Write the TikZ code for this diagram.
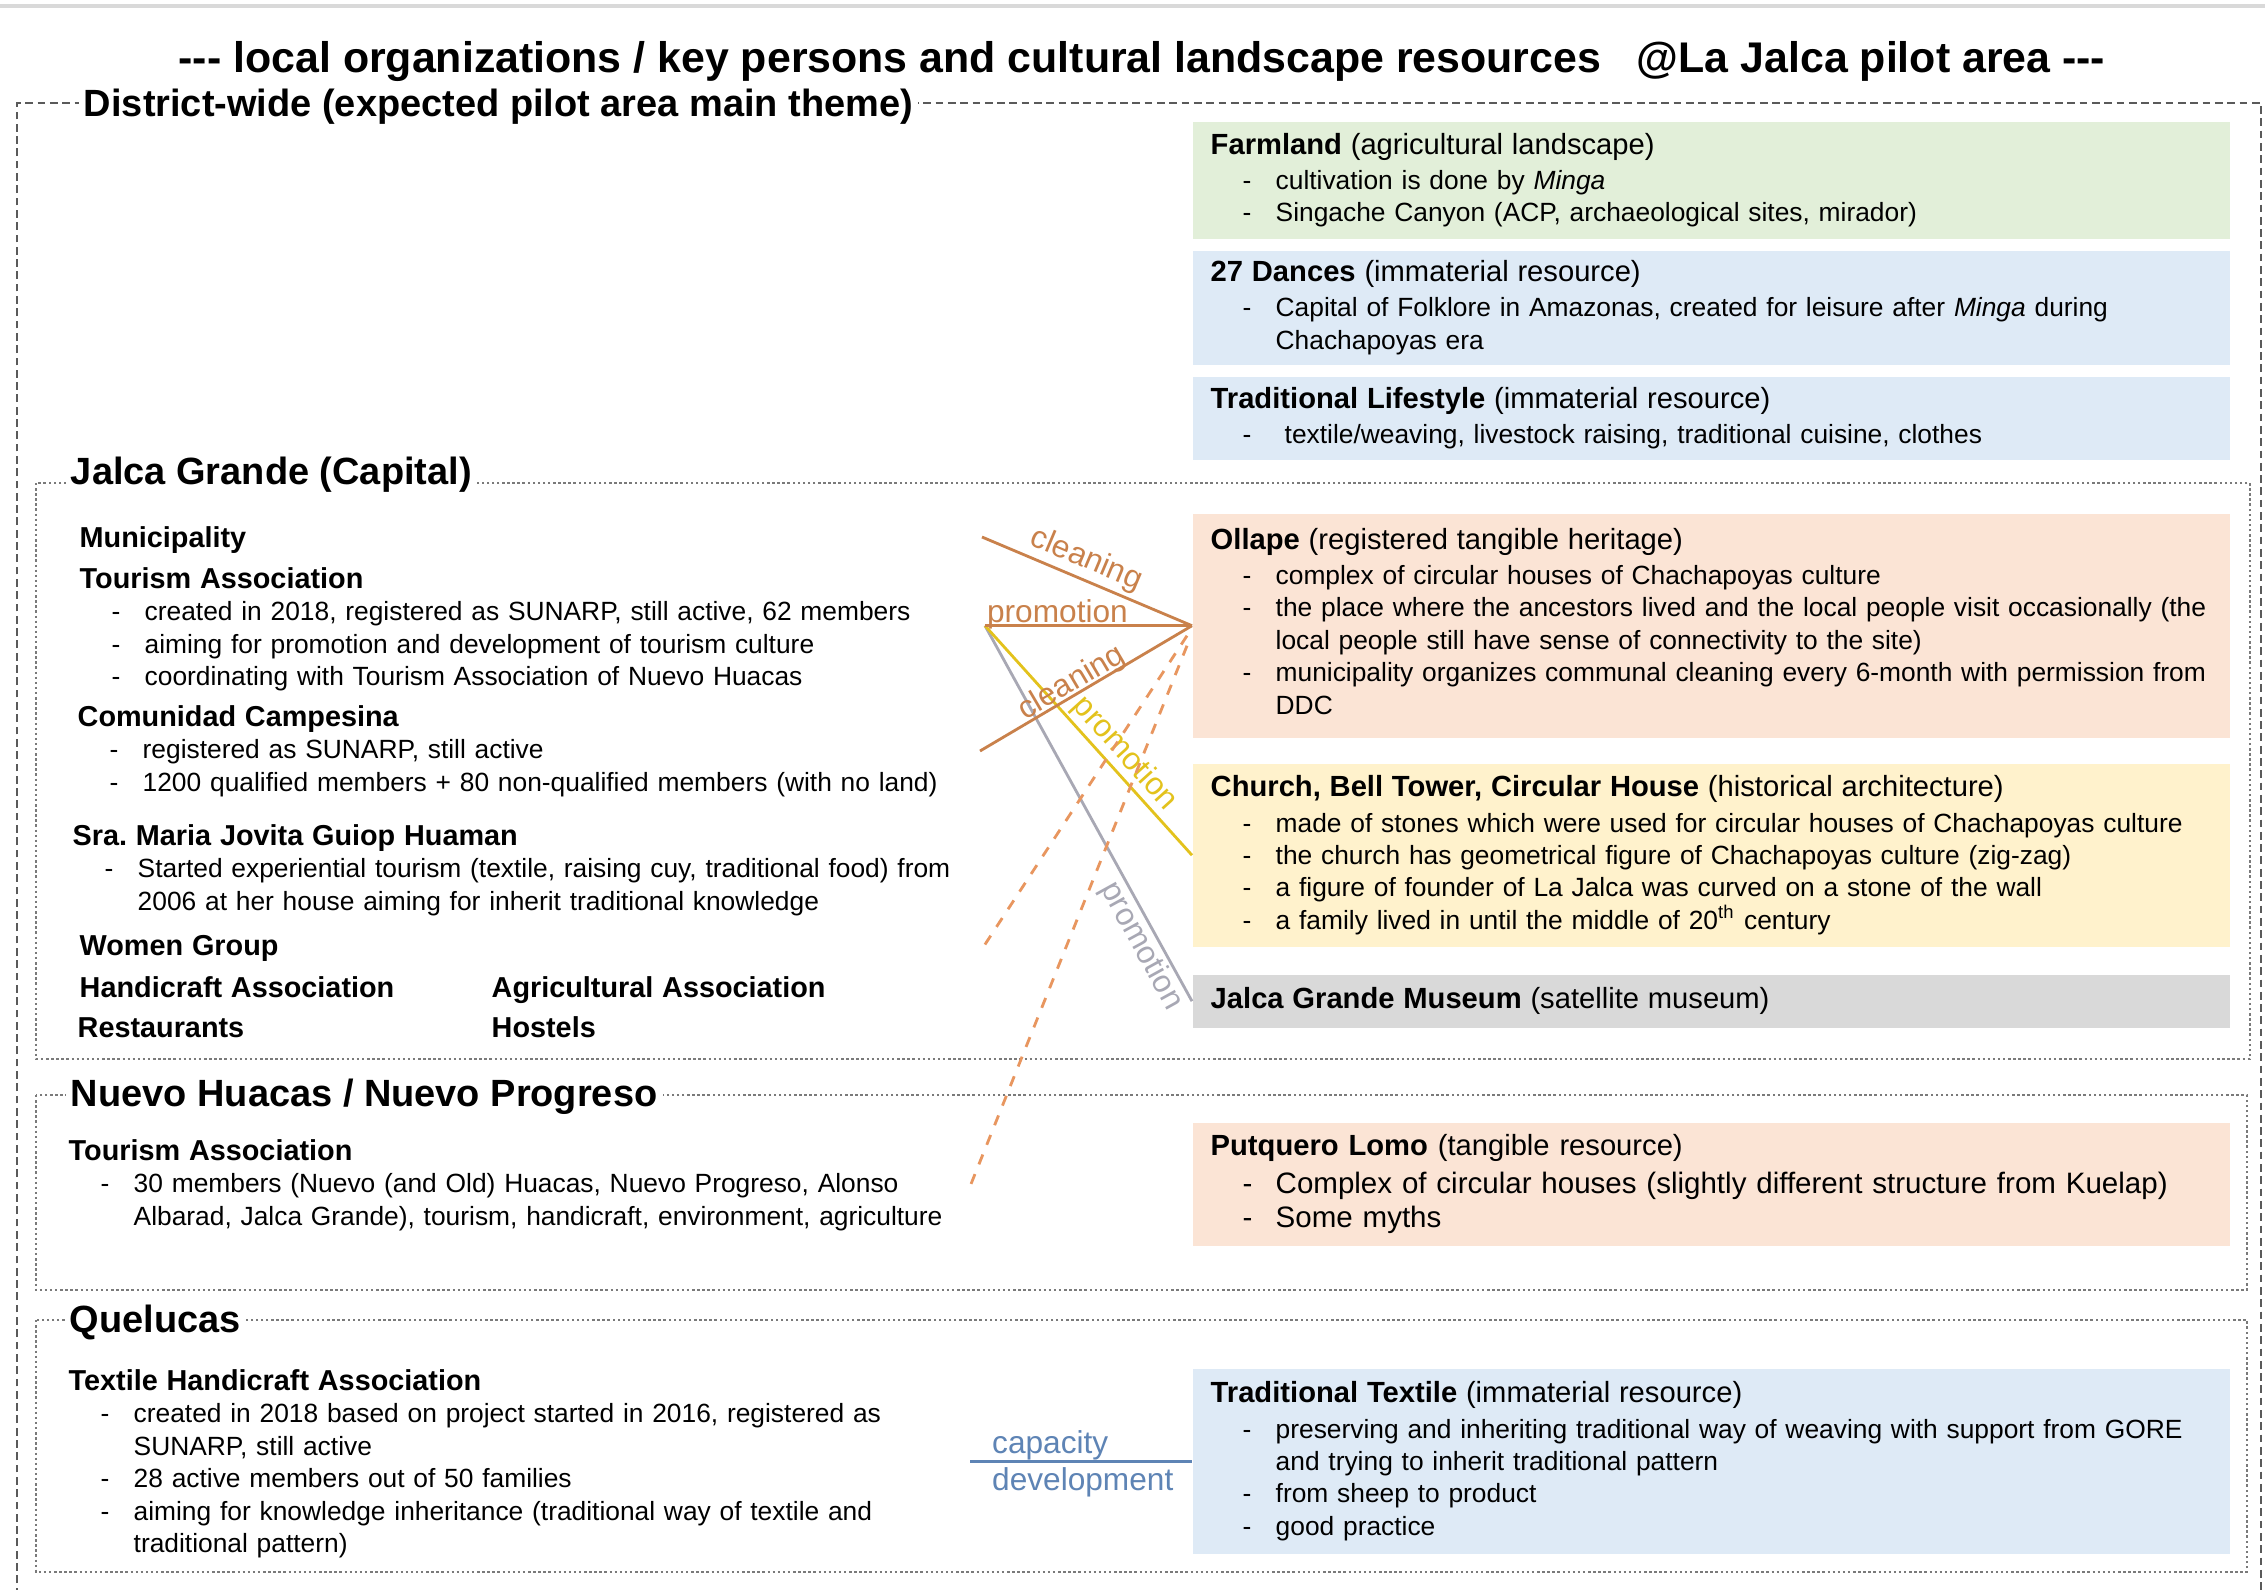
\documentclass[tikz,border=0pt]{standalone}
\usepackage{fontspec}
\setmainfont{Liberation Sans}
\usetikzlibrary{positioning}

\definecolor{farmgreen}{HTML}{E2EFD9}
\definecolor{immblue}{HTML}{DEEAF6}
\definecolor{tangpeach}{HTML}{FBE4D5}
\definecolor{archyellow}{HTML}{FFF2CC}
\definecolor{musegray}{HTML}{D9D9D9}
\definecolor{cleanbrown}{HTML}{C9814B}
\definecolor{promoyellow}{HTML}{E3C21C}
\definecolor{promogray}{HTML}{A8A8B4}
\definecolor{dashorange}{HTML}{E8965F}
\definecolor{capblue}{HTML}{5E84B5}
\definecolor{framegray}{HTML}{5A5A5A}
\definecolor{dotgray}{HTML}{7A7A7A}

% bullet line, heading of an organisation, heading of a resource box
\newcommand\itm[1]{\par\noindent\hangindent=0.65cm\hangafter=1\rightskip=-0.3cm plus 1fil\relax%
  \hspace*{0.32cm}\makebox[0.33cm][l]{-}#1\par}
\newcommand\orgname[1]{{\fontsize{8.2}{9.4}\selectfont\bfseries #1}}
\newcommand\restitle[2]{{\fontsize{8.3}{10}\selectfont\textbf{#1} #2\par}\vspace{0.8pt}}

\begin{document}
\begin{tikzpicture}[
    x=1cm, y=1cm,
    font=\fontsize{7.5}{9.2}\selectfont,
    outerframe/.style={draw=framegray, line width=0.6pt, dash pattern=on 2.2pt off 1.3pt},
    area/.style={draw=dotgray, line width=0.7pt, dash pattern=on 0.7pt off 0.75pt},
    areahead/.style={
        fill=white,
        anchor=west,
        inner sep=1.5pt,
        font=\fontsize{10.8}{13}\selectfont\bfseries
    },
    org/.style={
        anchor=base west,
        inner sep=0pt,
        text width=10cm,
        align=left,
        font=\fontsize{7.5}{9.25}\selectfont
    },
    resource/.style={
        rectangle,
        anchor=north west,
        minimum width=10.37cm,
        text width=10.01cm,
        inner xsep=0.18cm,
        inner ysep=0pt,
        align=left
    },
    link/.style={line width=0.8pt},
    linklabel/.style={sloped, font=\fontsize{9}{10}\selectfont, inner sep=0.5pt}
  ]

\useasboundingbox (0,0) rectangle (22.65,-15.90);
\fill[white] (0,0) rectangle (22.65,-15.90);
\draw[black!15, line width=1pt] (0,-0.06) -- (22.65,-0.06);

% // Title
\node[font=\fontsize{12.2}{14}\selectfont\bfseries] (title) at (11.42,-0.62)
 {{-}{-}{-} local organizations / key persons and cultural landscape resources \ \ @La Jalca pilot area {-}{-}{-}};

% // Frames
\draw[outerframe] (0.17,-16.2) |- (22.61,-1.03) -- (22.61,-16.2);
\draw[area] (0.36,-4.83) rectangle (22.50,-10.59);
\draw[area] (0.36,-10.95) rectangle (22.47,-12.90);
\draw[area] (0.36,-13.20) rectangle (22.47,-15.72);

\node[areahead] (district) at (0.78,-1.07) {District-wide (expected pilot area main theme)};
\node[areahead] (jalca) at (0.65,-4.75) {Jalca Grande (Capital)};
\node[areahead] (nuevo) at (0.65,-10.97) {Nuevo Huacas / Nuevo Progreso};
\node[areahead] (quel) at (0.64,-13.22) {Quelucas};

% // Resources (right column)
\node[resource, fill=farmgreen, minimum height=1.17cm] (farm) at (11.92,-1.21)
 {\restitle{Farmland}{(agricultural landscape)}
  \itm{cultivation is done by \textit{Minga}}
  \itm{Singache Canyon (ACP, archaeological sites, mirador)}};
\node[resource, fill=immblue, minimum height=1.14cm] (dance) at (11.92,-2.50)
 {\restitle{27 Dances}{(immaterial resource)}
  \itm{Capital of Folklore in Amazonas, created for leisure after \textit{Minga} during\newline
       Chachapoyas era}};
\node[resource, fill=immblue, minimum height=0.83cm] (life) at (11.92,-3.76)
 {\restitle{Traditional Lifestyle}{(immaterial resource)}
  \itm{\hspace*{0.09cm}textile/weaving, livestock raising, traditional cuisine, clothes}};
\node[resource, fill=tangpeach, minimum height=2.24cm] (ollape) at (11.92,-5.13)
 {\restitle{Ollape}{(registered tangible heritage)}
  \itm{complex of circular houses of Chachapoyas culture}
  \itm{the place where the ancestors lived and the local people visit occasionally (the\newline
       local people still have sense of connectivity to the site)}
  \itm{municipality organizes communal cleaning every 6-month with permission from\newline
       DDC}\nointerlineskip\vbox to 2.5pt{}};
\node[resource, fill=archyellow, minimum height=1.83cm] (church) at (11.92,-7.63)
 {\restitle{Church, Bell Tower, Circular House}{(historical architecture)}
  \itm{made of stones which were used for circular houses of Chachapoyas culture}
  \itm{the church has geometrical figure of Chachapoyas culture (zig-zag)}
  \itm{a figure of founder of La Jalca was curved on a stone of the wall}
  \itm{a family lived in until the middle of 20\textsuperscript{th} century}};
\node[resource, fill=musegray, minimum height=0.53cm] (museum) at (11.92,-9.74)
 {{\fontsize{8.3}{10}\selectfont\textbf{Jalca Grande Museum} (satellite museum)}};
\node[resource, fill=tangpeach, minimum height=1.23cm,
      font=\fontsize{8.4}{9.9}\selectfont] (putq) at (11.92,-11.22)
 {\restitle{Putquero Lomo}{(tangible resource)}
  \itm{Complex of circular houses (slightly different structure from Kuelap)}
  \itm{Some myths}};
\node[resource, fill=immblue, minimum height=1.85cm] (textile) at (11.92,-13.68)
 {\restitle{Traditional Textile}{(immaterial resource)}
  \itm{preserving and inheriting traditional way of weaving with support from GORE\newline
       and trying to inherit traditional pattern}
  \itm{from sheep to product}
  \itm{good practice}};

% // Jalca Grande
\node[org] (jgmuni) at (0.79,-5.47) {\orgname{Municipality}};
\node[org] (jgtour) at (0.79,-5.88)
 {\orgname{Tourism Association}
  \itm{created in 2018, registered as SUNARP, still active, 62 members}
  \itm{aiming for promotion and development of tourism culture}
  \itm{coordinating with Tourism Association of Nuevo Huacas}};
\node[org] (jgcomu) at (0.77,-7.26)
 {\orgname{Comunidad Campesina}
  \itm{registered as SUNARP, still active}
  \itm{1200 qualified members + 80 non-qualified members (with no land)}};
\node[org] (jgsra) at (0.72,-8.45)
 {\orgname{Sra.\ Maria Jovita Guiop Huaman}
  \itm{Started experiential tourism (textile, raising cuy, traditional food) from\newline
       2006 at her house aiming for inherit traditional knowledge}};
\node[org] (jgwomen) at (0.79,-9.55) {\orgname{Women Group}};
\node[org] (jghandi) at (0.79,-9.97) {\orgname{Handicraft Association}};
\node[org] (jgagri) at (4.91,-9.97) {\orgname{Agricultural Association}};
\node[org] (jgrest) at (0.77,-10.37) {\orgname{Restaurants}};
\node[org] (jghost) at (4.91,-10.37) {\orgname{Hostels}};

% // Nuevo Huacas / Nuevo Progreso
\node[org] (nhtour) at (0.68,-11.60)
 {\orgname{Tourism Association}
  \itm{30 members (Nuevo (and Old) Huacas, Nuevo Progreso, Alonso\newline
       Albarad, Jalca Grande), tourism, handicraft, environment, agriculture}};

% // Quelucas
\node[org] (qltex) at (0.68,-13.90)
 {\orgname{Textile Handicraft Association}
  \itm{created in 2018 based on project started in 2016, registered as\newline
       SUNARP, still active}
  \itm{28 active members out of 50 families}
  \itm{aiming for knowledge inheritance (traditional way of textile and\newline
       traditional pattern)}};

% // Links
\coordinate (clean1) at (9.82,-5.37);
\coordinate[left=2.07cm of ollape.west] (promo);
\coordinate (clean2) at (9.80,-7.51);
\coordinate (tour1) at (9.82,-9.49);
\coordinate (tour2) at (9.71,-11.84);
\coordinate[left=2.22cm of textile.west] (capa);

\draw[link, promogray] (promo) -- node[linklabel, below, pos=0.83, text=promogray] {promotion} (museum.west);
\draw[link, promoyellow] (promo) -- node[linklabel, above, pos=0.61, text=promoyellow] {promotion} (church.west);
\draw[link, dashorange, dashed] ([xshift=-0.05cm, yshift=-0.1cm]ollape.west) -- (tour1);
\draw[link, dashorange, dashed] ([xshift=-0.05cm, yshift=-0.2cm]ollape.west) -- (tour2);
\draw[link, cleanbrown] (clean1) -- node[linklabel, above=0.5pt, pos=0.46, text=cleanbrown] {cleaning} (ollape.west);
\draw[link, cleanbrown] (promo) -- node[linklabel, above=-1.8pt, pos=0.35, text=cleanbrown] {promotion} (ollape.west);
\draw[link, cleanbrown] (clean2) -- node[linklabel, above=-1.8pt, pos=0.46, text=cleanbrown] {cleaning} (ollape.west);

\draw[link, capblue] (capa) --
  node[anchor=south west, pos=0.07, inner sep=0pt, xshift=1.5pt, text=capblue, font=\fontsize{9}{10}\selectfont] (capt) {capacity}
  node[anchor=north west, pos=0.07, inner sep=1.5pt, text=capblue, font=\fontsize{9}{10}\selectfont] (devt) {development}
  (textile.west);

\end{tikzpicture}
\end{document}
